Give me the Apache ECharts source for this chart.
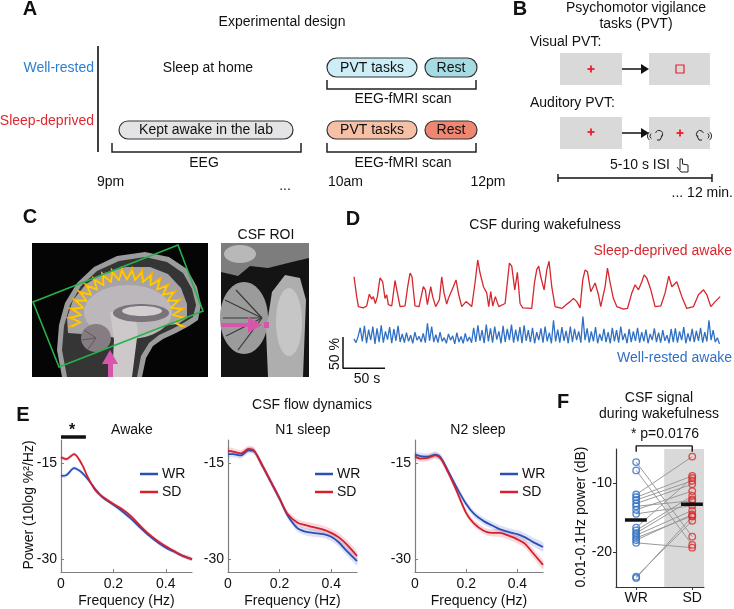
<!DOCTYPE html>
<html lang="en">
<head>
<meta charset="UTF-8">
<title>CSF flow during wakefulness</title>
<style>
  html, body { margin: 0; padding: 0; background: #fff; }
  #chart { width: 734px; height: 609px; }
</style>
</head>
<body>
<div id="chart"></div>
<script src="https://cdn.jsdelivr.net/npm/echarts@6/dist/echarts.min.js"></script>
<script>
// ---------------- data ----------------
// D: CSF signal traces (time in s, signal in %)
var redTime = [13.1,16.3,18.3,24.2,28.2,31.3,34.1,36.1,38.5,40.9,44,47.2,50,52,54,58,61.9,64.7,67.9,73.8,77,79.8,82.1,85.7,90.5,95.6,98,100.4,104.4,106.7,110.3,114.7,117.5,120.2,123.4,125.4,131.3,134.5,137.7,141.3,146.4,149.2,153.2,157.1,160.3,163.1,167.1,171,173.4,175.8,178.2,181.3,185.3,192.9,198,200.8,204.4,207.5,210.7,213.9,224.6,227.8,230.6,232.9,235.3,239.3,242.5,245.2,248.4,252.4,260.3,265.5,270.2,274.2,278.2,282.1,285.3,288.1,290.9,294.8,300,304,306.7,311.9,314.7,317.9,321.8,325.8,333.7,338.5,343.7,347.6,351.6,355.6,358.3,361.5,366.3,371.4,378.2,383.3,387.7,391.3,397.2,403.2,409.1,417.1,423,429,433,437.7,442.9,448.8];
var redPct = [48,16,0,-2,1,20,12,16,5,16,46,40,13,19,3,1,42,22,0,1,32,54,48,1,0,32,27,3,32,16,0,11,48,22,4,13,32,43,19,0,8,5,0,38,75,54,32,22,0,24,1,16,0,5,70,65,27,55,5,-2,-3,38,60,65,48,27,59,73,32,0,-3,3,8,13,8,-2,43,59,56,24,38,19,0,32,62,38,13,0,-4,-3,22,35,27,40,51,46,27,0,1,22,49,32,40,16,-3,0,19,27,19,0,8,16];
var blueStart = 13, blueStep = 2.5;
var bluePct = [10,4,14,
  28,6,31,3,25,8,30,2,27,5,32,4,22,9,29,3,26,7,31,5,18,4,
  20,6,16,3,21,8,14,5,19,4,
  35,7,30,5,
  17,4,21,6,12,3,18,8,15,2,20,5,14,3,19,6,13,4,
  28,5,32,7,24,3,33,6,27,4,30,9,22,3,31,5,26,8,33,4,25,6,29,3,32,7,
  24,5,28,3,21,8,27,4,30,6,20,3,
  40,6,25,
  4,29,7,23,3,30,5,26,8,22,4,
  46,8,
  27,4,22,6,29,3,18,7,26,5,21,3,28,
  6,24,4,30,8,19,3,26,5,22,7,28,4,
  21,6,25,3,18,8,27,5,20,4,24,7,16,3,26,5,
  27,4,22,8,29,3,19,6,26,5,23,7,28,4,21,6,
  40,8,24,5,12,2];
var scaleBarPct = 50, scaleBarSec = 50;

// E: CSF flow power spectra (dB)
var freqHz  = [0,0.02,0.05,0.08,0.1,0.13,0.16,0.2,0.23,0.27,0.3,0.33,0.37,0.4,0.43,0.46,0.5];
var awakeWR = [-17.0,-16.9,-15.8,-16.5,-17.4,-19.0,-20.4,-21.5,-22.4,-23.8,-25.0,-26.1,-27.4,-28.2,-28.8,-29.4,-30.0];
var awakeSD = [-14.1,-14.4,-13.6,-15.2,-17.0,-19.2,-20.3,-21.4,-22.1,-23.4,-24.7,-25.9,-27.2,-28.0,-28.7,-29.4,-30.0];
var n1WR    = [-13.6,-13.6,-13.8,-13.0,-13.1,-15.2,-17.5,-20.6,-23.1,-25.2,-25.7,-25.9,-26.1,-26.5,-27.4,-28.7,-30.3];
var n1SD    = [-13.1,-13.2,-13.5,-12.8,-13.0,-15.1,-17.4,-20.5,-22.9,-24.3,-24.7,-25.0,-25.4,-25.9,-26.6,-27.7,-29.5];
var n2WR    = [-13.7,-13.9,-14.0,-13.7,-14.1,-16.3,-18.6,-21.4,-22.9,-24.1,-24.7,-25.3,-25.8,-26.1,-26.6,-27.3,-28.1];
var n2SD    = [-14.0,-14.3,-14.2,-13.8,-14.3,-16.5,-19.1,-22.8,-24.4,-25.6,-25.9,-25.9,-26.4,-26.9,-27.6,-29.0,-30.9];
var semAwake = [0.3,0.3,0.3,0.3,0.3,0.3,0.3,0.3,0.3,0.3,0.3,0.3,0.3,0.3,0.3,0.3,0.3];
var semSleep = [0.5,0.5,0.5,0.5,0.5,0.5,0.5,0.5,0.5,0.55,0.55,0.6,0.6,0.65,0.65,0.7,0.7];
var sigBandHz = [0, 0.095];

// F: 0.01-0.1 Hz power per subject (dB), pairs in the same order
var groupNames = ['WR', 'SD'];
var wrPower = [-6.9,-8.1,-11.6,-12.0,-12.4,-12.9,-13.3,-13.8,-14.4,-16.4,-16.8,-17.2,-17.5,-17.9,-18.2,-18.6,-23.5,-23.7];
var sdPower = [-17.7,-18.9,-6.1,-8.9,-9.6,-10.1,-12.5,-11.1,-13.2,-9.2,-11.8,-12.3,-13.9,-14.7,-14.5,-19.3,-15.4,-14.8];
var meanPower = [-15.3, -13.0];
var pLabel = '* p=0.0176';

// ---------------- styles ----------------
var FONT = '"Liberation Sans", Arial, Helvetica, sans-serif';
var RED = '#d7262e', BLUE = '#2f6fc4';
var WR_C = '#2b4fb8', SD_C = '#d2202f';
var RED_BASE = 102, BLUE_BASE = 40;   // vertical offsets of the two traces in panel D

function txt(x, y, s, o) {
  o = o || {};
  return {
    type: 'text', x: x, y: y, rotation: o.rot || 0, silent: true, z: 10,
    style: {
      text: s, fill: o.color || '#111', fontFamily: FONT,
      fontSize: o.size || 14, fontWeight: o.bold ? 'bold' : 'normal',
      align: o.align || 'center', verticalAlign: 'middle'
    }
  };
}
function line(pts, color, w) {
  return { type: 'polyline', silent: true, shape: { points: pts },
    style: { stroke: color || '#111', lineWidth: w || 1.2, fill: null } };
}
function poly(pts, fill, stroke, w) {
  return { type: 'polygon', silent: true, shape: { points: pts },
    style: { fill: fill || null, stroke: stroke || null, lineWidth: w || 1 } };
}
function rect(x, y, w, h, fill, stroke, r) {
  return { type: 'rect', silent: true, shape: { x: x, y: y, width: w, height: h, r: r || 0 },
    style: { fill: fill, stroke: stroke || null, lineWidth: 1.2 } };
}
function ell(cx, cy, rx, ry, fill) {
  return { type: 'ellipse', silent: true, shape: { cx: cx, cy: cy, rx: rx, ry: ry }, style: { fill: fill } };
}
function pill(x, y, w, h, fill, label) {
  return [rect(x, y, w, h, fill, '#333', h / 2), txt(x + w / 2, y + h / 2 + 0.5, label)];
}
function bracket(x1, x2, y1, y2) {
  return line([[x1, y1], [x1, y2], [x2, y2], [x2, y1]], '#222', 1.5);
}
function plus(cx, cy) {
  return [line([[cx - 3.5, cy], [cx + 3.5, cy]], '#e8202a', 1.8), line([[cx, cy - 3.5], [cx, cy + 3.5]], '#e8202a', 1.8)];
}
function arrowR(x1, x2, y) {
  return [line([[x1, y], [x2 - 6, y]], '#111', 1.5), poly([[x2 - 8, y - 5], [x2, y], [x2 - 8, y + 5]], '#111')];
}
function arc(cx, cy, r, a0, a1) {
  return { type: 'arc', silent: true, shape: { cx: cx, cy: cy, r: r, startAngle: a0, endAngle: a1 },
    style: { stroke: '#222', lineWidth: 1, fill: null } };
}
// folded outline for the cortex sketch in panel C (decoration only)
function cortex(cx, cy, rx, ry, n, inner) {
  var pts = [];
  for (var k = 0; k <= n; k++) {
    var a = Math.PI * (0.97 + 1.06 * k / n);
    var f = (k % 2 === 0) ? 1 : inner;
    pts.push([cx + rx * f * Math.cos(a), cy + ry * f * Math.sin(a)]);
  }
  return pts;
}

// ---------------- drawings: panels A, B, C and free texts ----------------
var g = [];
function add(x) { g = g.concat(x); }

// A
add(txt(30, 9, 'A', { size: 20, bold: true }));
add(txt(282, 22, 'Experimental design'));
add(line([[98, 46], [98, 152]], '#111', 1.6));
add(txt(94, 68, 'Well-rested', { align: 'right', color: '#2a7fd0' }));
add(txt(94, 121, 'Sleep-deprived', { align: 'right', color: '#e0282e' }));
add(txt(208, 68, 'Sleep at home'));
add(pill(119, 121, 174, 18, '#e4e4e6', 'Kept awake in the lab'));
add(bracket(112, 301, 143, 152));
add(txt(204, 163, 'EEG'));
add(pill(327, 58, 90, 19, '#cdeef6', 'PVT tasks'));
add(pill(425, 58, 52, 19, '#a6dbe4', 'Rest'));
add(bracket(327, 476, 80, 89));
add(txt(403, 99, 'EEG-fMRI scan'));
add(pill(327, 121, 90, 18, '#f6c0a6', 'PVT tasks'));
add(pill(425, 121, 52, 18, '#ee8672', 'Rest'));
add(bracket(327, 476, 143, 152));
add(txt(403, 163, 'EEG-fMRI scan'));
add(txt(97, 182, '9pm', { align: 'left' }));
add(txt(285, 186, '...'));
add(txt(328, 182, '10am', { align: 'left' }));
add(txt(488, 182, '12pm'));

// B
add(txt(520, 9, 'B', { size: 20, bold: true }));
add(txt(636, 8, 'Psychomotor vigilance'));
add(txt(636, 24, 'tasks (PVT)'));
add(txt(530, 42, 'Visual PVT:', { align: 'left' }));
add(rect(560, 53, 62, 32, '#d9d9d9'));
add(rect(649, 53, 61, 32, '#d9d9d9'));
add(plus(591, 69));
add({ type: 'rect', silent: true, shape: { x: 676, y: 65, width: 8, height: 8 }, style: { fill: null, stroke: '#e8202a', lineWidth: 1.2 } });
add(arrowR(622, 649, 69));
add(txt(530, 103, 'Auditory PVT:', { align: 'left' }));
add(rect(560, 117, 62, 32, '#d9d9d9'));
add(rect(649, 117, 61, 32, '#d9d9d9'));
add(plus(591, 132));
add(plus(680, 133));
add(arrowR(622, 649, 133));
// ears with little sound waves
add(arc(659, 134, 3.5, Math.PI * 1.1, Math.PI * 2.3));
add(line([[662.5, 135], [660, 140], [657, 140]], '#222', 1));
add(arc(653, 136, 3, Math.PI * 0.7, Math.PI * 1.3));
add(arc(653, 136, 5.5, Math.PI * 0.75, Math.PI * 1.25));
add(arc(700, 134, 3.5, Math.PI * 0.7, Math.PI * 1.9));
add(line([[696.5, 135], [699, 140], [702, 140]], '#222', 1));
add(arc(706, 136, 3, -Math.PI * 0.3, Math.PI * 0.3));
add(arc(706, 136, 5.5, -Math.PI * 0.25, Math.PI * 0.25));
add(txt(640, 165, '5-10 s ISI'));
add(line([[680, 170], [680, 159], [682.5, 159], [682.5, 164], [688, 165], [688, 172], [681, 172], [677, 167]], '#222', 1));
add(line([[558, 178], [712, 178]], '#111', 1.4));
add(line([[558, 174], [558, 182]], '#111', 1.4));
add(line([[712, 174], [712, 182]], '#111', 1.4));
add(txt(733, 193, '... 12 min.', { align: 'right' }));

// C: sagittal MRI sketch
add(txt(30, 217, 'C', { size: 20, bold: true }));
add(rect(32, 243, 176, 134, '#050505'));
add(poly([[62,377],[57,350],[59,325],[65,303],[77,283],[94,267],[117,256],[145,252],[169,257],[187,269],[197,287],[201,305],[198,320],[189,326],[176,333],[163,339],[153,346],[146,358],[142,377]], '#9c9c9c'));
add(poly([[67,377],[62,350],[64,326],[70,305],[81,286],[97,271],[119,261],[145,257],[167,262],[183,273],[192,289],[196,305],[193,317],[185,322],[172,329],[159,335],[149,343],[141,356],[137,377]], '#353535'));
add(poly([[68,333],[67,318],[73,300],[86,284],[104,273],[126,267],[150,267],[168,274],[181,288],[187,304],[187,318],[178,324],[160,326],[140,328],[120,330],[100,330],[82,334]], '#a7a2a6'));
add(ell(128, 312, 44, 27, '#bcb7bb'));
add(ell(96, 338, 15, 14, '#857d81'));
add(line([[96, 338], [84, 330]], '#5e585b', 1));
add(line([[96, 338], [82, 340]], '#5e585b', 1));
add(line([[96, 338], [88, 349]], '#5e585b', 1));
add(poly([[110,312],[133,309],[138,330],[132,377],[112,377],[114,340]], '#cdc8c9'));
add(ell(141, 313, 28, 9, '#79737a'));
add(ell(142, 311, 20, 5, '#d3ced0'));
add(line(cortex(127, 322, 59, 54, 38, 0.8), '#ffad00', 1.7));
add(line(cortex(127, 322, 56, 51, 38, 0.83), '#ffd200', 1.3));
add(poly([[33,302],[178,245],[203,311],[59,367]], null, '#27b34b', 1.6));
add(rect(108, 363, 5, 14, '#d656ac'));
add(poly([[102,364],[118,364],[110,350]], '#d656ac'));
add(txt(266, 235, 'CSF ROI'));
add(rect(221, 243, 88, 134, '#141414'));
add(poly([[221,243],[309,243],[309,258],[292,262],[268,268],[250,266],[238,276],[221,272]], '#7d7d7d'));
add(ell(240, 254, 16, 9, '#b8b8b8'));
add(ell(244, 318, 24, 36, '#9b9b9b'));
add(line([[262,318],[225,300]], '#3a3a3a', 1.2));
add(line([[262,318],[223,318]], '#3a3a3a', 1.2));
add(line([[262,318],[226,336]], '#3a3a3a', 1.2));
add(line([[262,318],[236,290]], '#3a3a3a', 1.2));
add(line([[262,318],[238,350]], '#3a3a3a', 1.2));
add(poly([[272,292],[285,275],[300,278],[306,300],[303,377],[268,377],[266,330]], '#aeaeae'));
add(ell(289, 322, 13, 34, '#c6c6c6'));
add(rect(221, 323, 30, 4, '#d656ac'));
add(poly([[248,317],[248,333],[262,325]], '#d656ac'));
add(rect(264, 322, 5, 6, '#d656ac'));

// D texts
add(txt(353, 219, 'D', { size: 20, bold: true }));
add(txt(545, 225, 'CSF during wakefulness'));
add(txt(732, 251, 'Sleep-deprived awake', { align: 'right', color: RED }));
add(txt(732, 358, 'Well-rested awake', { align: 'right', color: BLUE }));
add(txt(335, 354, '50 %', { rot: Math.PI / 2 }));
add(txt(367, 379, '50 s'));

// E texts
add(txt(23, 415, 'E', { size: 20, bold: true }));
add(txt(312, 405, 'CSF flow dynamics'));
add(txt(132, 430, 'Awake'));
add(txt(303, 430, 'N1 sleep'));
add(txt(478, 430, 'N2 sleep'));
add(txt(72, 431, '*', { size: 16, bold: true }));
add(txt(29, 505, 'Power (10log %\u00b2/Hz)', { rot: Math.PI / 2 }));

// F texts
add(txt(563, 402, 'F', { size: 20, bold: true }));
add(txt(659, 398, 'CSF signal'));
add(txt(659, 414, 'during wakefulness'));
add(txt(665, 434, pLabel));
add(txt(581, 517, '0.01-0.1Hz power (dB)', { rot: Math.PI / 2 }));

// ---------------- chart ----------------
var chart = echarts.init(document.getElementById('chart'));

var axisGray = '#7f7f7f';
function specX(i) {
  return {
    gridIndex: i, type: 'value', min: 0, max: 0.5,
    axisLine: { show: true, onZero: false, lineStyle: { color: axisGray, width: 1.2 } },
    axisTick: { show: true, inside: true, length: 3, customValues: [0, 0.2, 0.4], lineStyle: { color: axisGray } },
    axisLabel: { customValues: [0, 0.2, 0.4], color: '#111', fontSize: 14, fontFamily: FONT, margin: 5,
      formatter: function (v) { return String(Math.round(v * 10) / 10); } },
    splitLine: { show: false },
    name: 'Frequency (Hz)', nameLocation: 'middle', nameGap: 22,
    nameTextStyle: { color: '#111', fontSize: 14, fontFamily: FONT }
  };
}
function specY(i) {
  return {
    gridIndex: i, type: 'value', min: -32, max: -11.4,
    axisLine: { show: true, onZero: false, lineStyle: { color: axisGray, width: 1.2 } },
    axisTick: { show: true, inside: true, length: 3, customValues: [-30, -15], lineStyle: { color: axisGray } },
    axisLabel: { customValues: [-30, -15], color: '#111', fontSize: 14, fontFamily: FONT, margin: 4 },
    splitLine: { show: false }
  };
}
function band(i, mean, sem, color) {
  return {
    type: 'custom', xAxisIndex: i, yAxisIndex: i, silent: true, z: 1, data: [0],
    renderItem: function (params, api) {
      var pts = [];
      for (var k = 0; k < freqHz.length; k++) pts.push(api.coord([freqHz[k], mean[k] + sem[k]]));
      for (var j = freqHz.length - 1; j >= 0; j--) pts.push(api.coord([freqHz[j], mean[j] - sem[j]]));
      return { type: 'polygon', shape: { points: pts, smooth: 0.2 }, style: { fill: color } };
    }
  };
}
function spec(i, name, vals, color) {
  return {
    name: name, type: 'line', xAxisIndex: i, yAxisIndex: i, z: 3,
    data: freqHz.map(function (f, k) { return [f, vals[k]]; }),
    smooth: 0.3, showSymbol: false, silent: true,
    itemStyle: { color: color }, lineStyle: { color: color, width: 1.8 }
  };
}

var series = [];
// D traces
series.push({
  type: 'line', xAxisIndex: 0, yAxisIndex: 0, showSymbol: false, silent: true,
  data: redTime.map(function (t, k) { return [t, redPct[k] + RED_BASE]; }),
  lineStyle: { color: RED, width: 1.3 }, itemStyle: { color: RED }
});
series.push({
  type: 'line', xAxisIndex: 0, yAxisIndex: 0, showSymbol: false, silent: true,
  data: bluePct.map(function (v, k) { return [blueStart + k * blueStep, v + BLUE_BASE]; }),
  lineStyle: { color: BLUE, width: 1.3 }, itemStyle: { color: BLUE }
});
series.push({
  type: 'line', xAxisIndex: 0, yAxisIndex: 0, showSymbol: false, silent: true,
  data: [[0, 3 + scaleBarPct], [0, 3], [scaleBarSec, 3]],
  lineStyle: { color: '#111', width: 1.5 }, itemStyle: { color: '#111' }
});
// E spectra
var panels = [[awakeWR, awakeSD, semAwake], [n1WR, n1SD, semSleep], [n2WR, n2SD, semSleep]];
panels.forEach(function (p, k) {
  var i = k + 1;
  series.push(band(i, p[0], p[2], 'rgba(60,90,200,0.18)'));
  series.push(band(i, p[1], p[2], 'rgba(215,40,55,0.18)'));
  series.push(spec(i, 'WR', p[0], WR_C));
  series.push(spec(i, 'SD', p[1], SD_C));
});
series.push({
  type: 'line', xAxisIndex: 1, yAxisIndex: 1, showSymbol: false, silent: true, clip: false,
  data: [[sigBandHz[0], -10.95], [sigBandHz[1], -10.95]],
  lineStyle: { color: '#111', width: 3.5 }, itemStyle: { color: '#111' }
});
// F
series.push({
  type: 'line', xAxisIndex: 4, yAxisIndex: 4, data: [], silent: true,
  markArea: { silent: true, itemStyle: { color: '#d9d9d9' }, data: [[{ xAxis: 1.5 }, { xAxis: 2.21 }]] }
});
wrPower.forEach(function (w, k) {
  series.push({
    type: 'line', xAxisIndex: 4, yAxisIndex: 4, showSymbol: false, silent: true, z: 2,
    data: [[1, w], [2, sdPower[k]]],
    lineStyle: { color: '#9a9a9a', width: 1 }, itemStyle: { color: '#9a9a9a' }
  });
});
[wrPower, sdPower].forEach(function (vals, gI) {
  var c = gI === 0 ? BLUE : '#e02a2a';
  series.push({
    name: groupNames[gI] + ' subjects', type: 'scatter', xAxisIndex: 4, yAxisIndex: 4, silent: true, z: 3,
    symbol: 'circle', symbolSize: 6.5,
    data: vals.map(function (v) { return [gI + 1, v]; }),
    itemStyle: { color: 'rgba(255,255,255,0)', borderColor: c, borderWidth: 1.4 }
  });
  series.push({
    type: 'line', xAxisIndex: 4, yAxisIndex: 4, showSymbol: false, silent: true, z: 4,
    data: [[gI + 1 - 0.2, meanPower[gI]], [gI + 1 + 0.19, meanPower[gI]]],
    lineStyle: { color: '#111', width: 3.5 }, itemStyle: { color: '#111' }
  });
});
series.push({
  type: 'line', xAxisIndex: 4, yAxisIndex: 4, showSymbol: false, silent: true, clip: false,
  data: [[1, -5.4], [1, -4.55], [2, -4.55], [2, -5.4]],
  lineStyle: { color: '#111', width: 1.4 }, itemStyle: { color: '#111' }
});

function legendAt(left) {
  return {
    data: ['WR', 'SD'], orient: 'vertical', left: left, top: 462, selectedMode: false,
    icon: 'rect', itemWidth: 18, itemHeight: 2.5, itemGap: 4,
    textStyle: { fontSize: 14, fontFamily: FONT, color: '#111', padding: [0, 0, 0, -1] }
  };
}

var option = {
  animation: false,
  backgroundColor: '#fff',
  textStyle: { fontFamily: FONT },
  legend: [legendAt(135), legendAt(310), legendAt(495)],
  grid: [
    { left: 343, top: 255, width: 379, height: 115 },
    { left: 61, top: 440, width: 131, height: 137 },
    { left: 228, top: 440, width: 129, height: 137 },
    { left: 415, top: 440, width: 128, height: 137 },
    { left: 616, top: 449, width: 88, height: 138 }
  ],
  xAxis: [
    { gridIndex: 0, type: 'value', min: 0, max: 451, show: false },
    specX(1), specX(2), specX(3),
    {
      gridIndex: 4, type: 'value', min: 0.64, max: 2.21,
      axisLine: { show: true, onZero: false, lineStyle: { color: '#333', width: 1.2 } },
      axisTick: { show: true, length: 3, customValues: [1, 2], lineStyle: { color: '#333' } },
      axisLabel: { customValues: [1, 2], color: '#111', fontSize: 14, fontFamily: FONT, margin: 4,
        formatter: function (v) { return groupNames[Math.round(v) - 1]; } },
      splitLine: { show: false }
    }
  ],
  yAxis: [
    { gridIndex: 0, type: 'value', min: 0, max: 185, show: false },
    specY(1), specY(2), specY(3),
    {
      gridIndex: 4, type: 'value', min: -25, max: -5,
      axisLine: { show: true, onZero: false, lineStyle: { color: '#333', width: 1.2 } },
      axisTick: { show: true, length: 3, customValues: [-20, -10], lineStyle: { color: '#333' } },
      axisLabel: { customValues: [-20, -10], color: '#111', fontSize: 14, fontFamily: FONT, margin: 4 },
      splitLine: { show: false }
    }
  ],
  series: series,
  graphic: { elements: g }
};

chart.setOption(option);
</script>
</body>
</html>
